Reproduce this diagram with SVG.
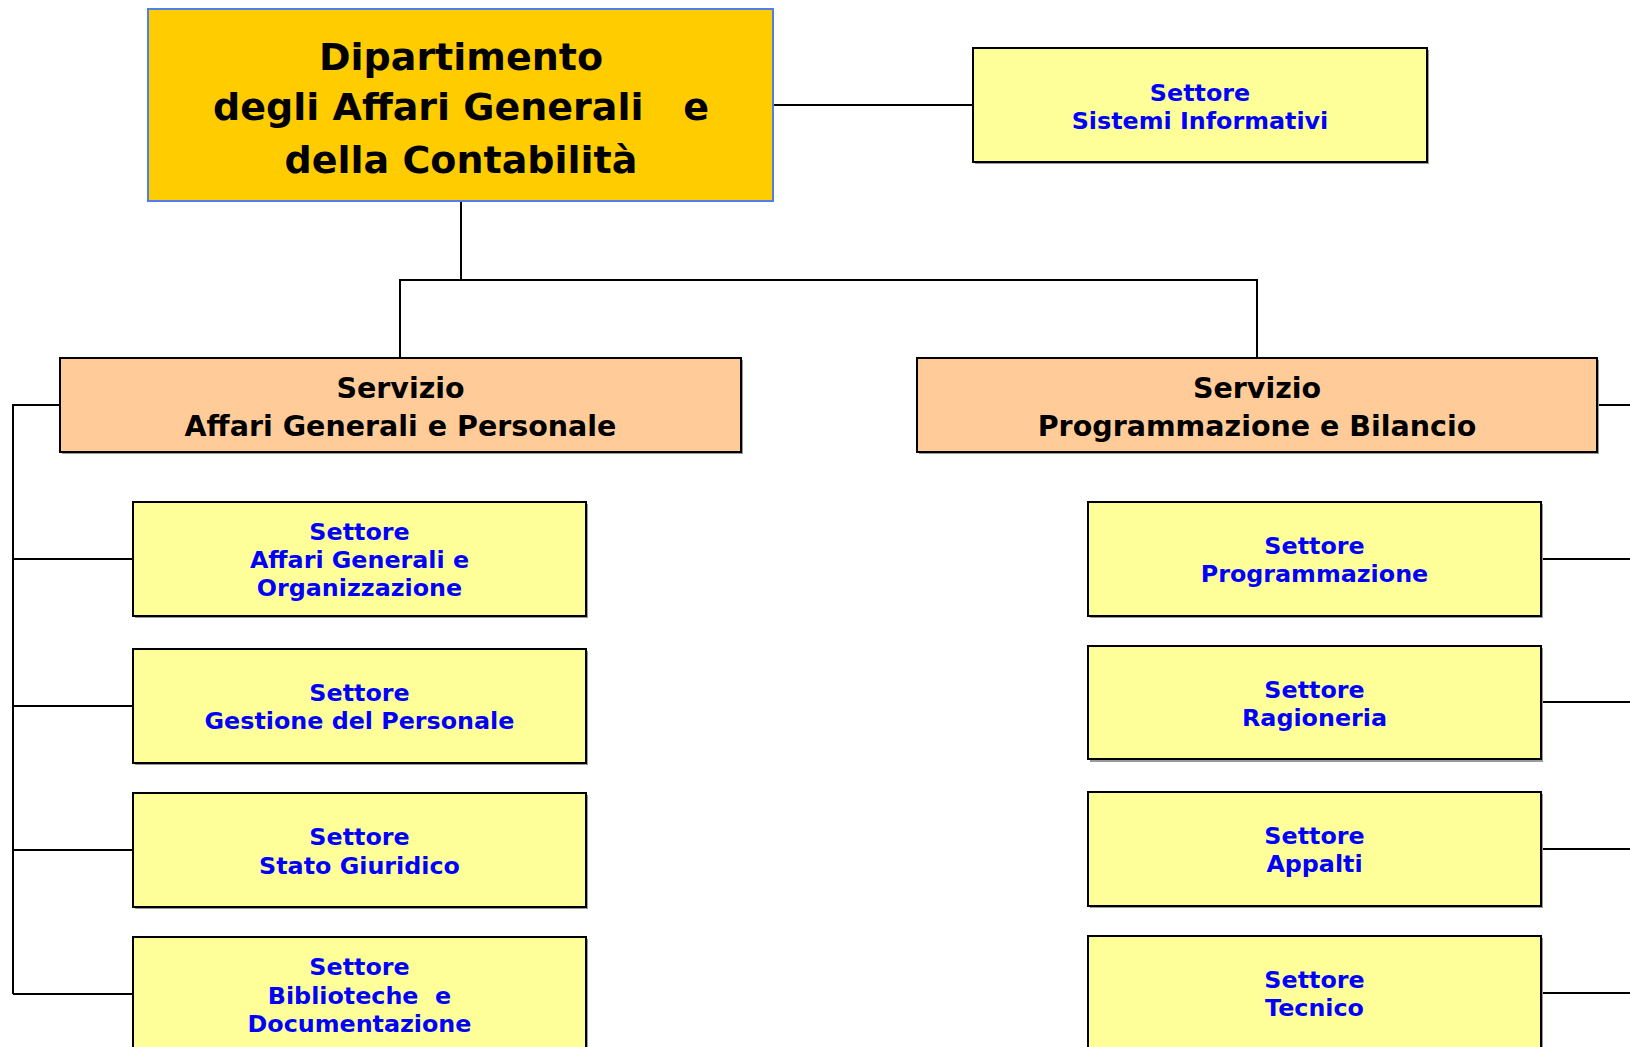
<svg xmlns="http://www.w3.org/2000/svg" width="1630" height="1047" viewBox="0 0 1630 1047">
<style>
.bg{fill:#FFFFFF}
.conn{stroke:#000;stroke-width:2;fill:none}
.shadow{fill:#9a9a9a}
.dept{fill:#FFCC00;stroke:#4F7FEF;stroke-width:2}
.serv{fill:#FFCC99;stroke:#000;stroke-width:2}
.sett{fill:#FFFF99;stroke:#000;stroke-width:2}
text{font-family:"DejaVu Sans","Verdana",sans-serif;font-weight:bold;text-anchor:middle;white-space:pre}
.tdept{font-size:38px;fill:#000}
.tserv{font-size:28.5px;fill:#000}
.tsett{font-size:23.8px;fill:#0000FF}
</style>
<rect class="bg" x="0" y="0" width="1630" height="1047"/>
<g id="connectors">
<path class="conn" d="M773 105 H973"/>
<path class="conn" d="M461 201 V280 M400 280 H1257 M400 279 V358 M1257 279 V358"/>
<path class="conn" d="M60 405 H13 V994 M13 559 H133 M13 706 H133 M13 850 H133 M13 994 H133"/>
<path class="conn" d="M1597 405 H1630 M1541 559 H1630 M1541 702 H1630 M1541 849 H1630 M1541 993 H1630"/>
</g>
<g id="dipartimento">
<rect class="dept" x="148" y="9" width="625" height="192"/>
<text class="tdept" x="461" y="69.5">Dipartimento</text>
<text class="tdept" x="461" y="120">degli Affari Generali   e</text>
<text class="tdept" x="461" y="173">della Contabilità</text>
</g>
<g id="sistemi-informativi">
<rect class="shadow" x="975" y="50" width="454" height="114"/>
<rect class="sett" x="973" y="48" width="454" height="114"/>
<text class="tsett" x="1200" y="100.5">Settore</text>
<text class="tsett" x="1200" y="129">Sistemi Informativi</text>
</g>
<g id="servizio-agp">
<rect class="shadow" x="62" y="360" width="681" height="94"/>
<rect class="serv" x="60" y="358" width="681" height="94"/>
<text class="tserv" x="400.5" y="397.5">Servizio</text>
<text class="tserv" x="400.5" y="435.5">Affari Generali e Personale</text>
</g>
<g id="servizio-pb">
<rect class="shadow" x="919" y="360" width="680" height="94"/>
<rect class="serv" x="917" y="358" width="680" height="94"/>
<text class="tserv" x="1257" y="397.5">Servizio</text>
<text class="tserv" x="1257" y="435.5">Programmazione e Bilancio</text>
</g>
<g id="settore-agor">
<rect class="shadow" x="135" y="504" width="453" height="114"/>
<rect class="sett" x="133" y="502" width="453" height="114"/>
<text class="tsett" x="359.5" y="539.5">Settore</text>
<text class="tsett" x="359.5" y="567.5">Affari Generali e</text>
<text class="tsett" x="359.5" y="596">Organizzazione</text>
</g>
<g id="settore-personale">
<rect class="shadow" x="135" y="651" width="453" height="114"/>
<rect class="sett" x="133" y="649" width="453" height="114"/>
<text class="tsett" x="359.5" y="700.5">Settore</text>
<text class="tsett" x="359.5" y="729">Gestione del Personale</text>
</g>
<g id="settore-stato-giuridico">
<rect class="shadow" x="135" y="795" width="453" height="114"/>
<rect class="sett" x="133" y="793" width="453" height="114"/>
<text class="tsett" x="359.5" y="845">Settore</text>
<text class="tsett" x="359.5" y="873.5">Stato Giuridico</text>
</g>
<g id="settore-biblioteche">
<rect class="shadow" x="135" y="939" width="453" height="140"/>
<rect class="sett" x="133" y="937" width="453" height="140"/>
<text class="tsett" x="359.5" y="975">Settore</text>
<text class="tsett" x="359.5" y="1003.5">Biblioteche  e</text>
<text class="tsett" x="359.5" y="1031.5">Documentazione</text>
</g>
<g id="settore-programmazione">
<rect class="shadow" x="1090" y="504" width="453" height="114"/>
<rect class="sett" x="1088" y="502" width="453" height="114"/>
<text class="tsett" x="1314.5" y="553.5">Settore</text>
<text class="tsett" x="1314.5" y="582">Programmazione</text>
</g>
<g id="settore-ragioneria">
<rect class="shadow" x="1090" y="648" width="453" height="114"/>
<rect class="sett" x="1088" y="646" width="453" height="113"/>
<text class="tsett" x="1314.5" y="697.5">Settore</text>
<text class="tsett" x="1314.5" y="726">Ragioneria</text>
</g>
<g id="settore-appalti">
<rect class="shadow" x="1090" y="794" width="453" height="114"/>
<rect class="sett" x="1088" y="792" width="453" height="114"/>
<text class="tsett" x="1314.5" y="843.5">Settore</text>
<text class="tsett" x="1314.5" y="872">Appalti</text>
</g>
<g id="settore-tecnico">
<rect class="shadow" x="1090" y="938" width="453" height="140"/>
<rect class="sett" x="1088" y="936" width="453" height="140"/>
<text class="tsett" x="1314.5" y="987.5">Settore</text>
<text class="tsett" x="1314.5" y="1016">Tecnico</text>
</g>
</svg>
